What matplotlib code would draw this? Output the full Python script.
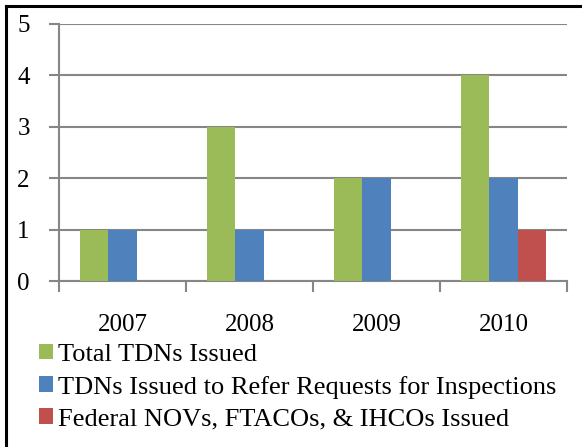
import matplotlib
matplotlib.use("Agg")
import matplotlib.pyplot as plt
import numpy as np
from matplotlib.lines import Line2D

years = ["2007", "2008", "2009", "2010"]
series_names = ["Total TDNs Issued",
                "TDNs Issued to Refer Requests for Inspections",
                "Federal NOVs, FTACOs, & IHCOs Issued"]
total_tdns = [1, 3, 2, 4]
tdns_refer = [1, 1, 2, 2]
federal_novs = [0, 0, 0, 1]
colors = ["#9BBB59", "#4F81BD", "#C0504D"]

plt.rcParams['font.family'] = ['Liberation Serif', 'DejaVu Serif']

W, H = 582, 447
fig = plt.figure(figsize=(W/100, H/100), dpi=100)
ax = fig.add_axes([59/W, 1-281/H, (567-59)/W, (281-24)/H])

x = np.arange(len(years))
w = 1/4.5
data = [total_tdns, tdns_refer, federal_novs]
for i, (vals, c, name) in enumerate(zip(data, colors, series_names)):
    ax.bar(x - w + i*w, vals, width=w, color=c, label=name, zorder=3)

ax.set_xlim(-0.5, len(years)-0.5)
ax.set_ylim(0, 5)
ax.set_yticks(range(0, 6))
ax.yaxis.grid(True, color="#868686", linewidth=1.5, zorder=0)
for s in ["top", "right"]:
    ax.spines[s].set_visible(False)
for s in ["left", "bottom"]:
    ax.spines[s].set_color("#868686")
    ax.spines[s].set_linewidth(1.5)
ax.tick_params(axis='y', length=7, width=1.5, color="#868686", labelsize=18, pad=14)
ax.set_xticks(x)
ax.set_xticklabels(years, fontsize=18)
ax.tick_params(axis='x', length=0, pad=24)
ax.set_xticks(np.arange(-0.5, len(years)), minor=True)
ax.tick_params(axis='x', which='minor', length=8, width=1.5, color="#868686")

leg = fig.legend(loc='upper left', bbox_to_anchor=(28/W, 1-333/H), frameon=False,
                 fontsize=19, handlelength=0.55, handleheight=0.55, handletextpad=0.2,
                 labelspacing=0.37, borderaxespad=0)

# Only top and left border lines are visible in the reference
fig.lines.append(Line2D([6/W, 6/W], [0, 1-6/H], transform=fig.transFigure,
                        color='black', linewidth=2.2, solid_capstyle='projecting'))
fig.lines.append(Line2D([6/W, 1], [1-6/H, 1-6/H], transform=fig.transFigure,
                        color='black', linewidth=2.2, solid_capstyle='projecting'))
fig.savefig("out.png", dpi=100)
